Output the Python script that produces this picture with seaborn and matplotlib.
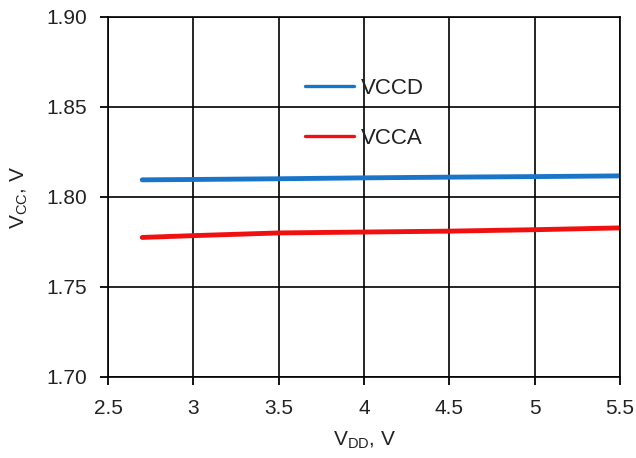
import matplotlib
matplotlib.use("Agg")
import matplotlib.pyplot as plt
import seaborn as sns
import pandas as pd


# ------------------------------------------------
# DATA
# ------------------------------------------------

vdd = [2.7, 3.0, 3.5, 4.0, 4.5, 5.0, 5.5]
vccd = [1.8095, 1.8097, 1.8101, 1.8106, 1.8110, 1.8113, 1.8117]
vcca = [1.7775, 1.7785, 1.7800, 1.7805, 1.7810, 1.7818, 1.7828]

series_names = ["VCCD", "VCCA"]
series_colors = ["#1a75c9", "#f01010"]

x_ticks = [2.5, 3, 3.5, 4, 4.5, 5, 5.5]
x_tick_labels = ["2.5", "3", "3.5", "4", "4.5", "5", "5.5"]
y_ticks = [1.70, 1.75, 1.80, 1.85, 1.90]
y_tick_labels = ["1.70", "1.75", "1.80", "1.85", "1.90"]


# ------------------------------------------------
# STYLE
# ------------------------------------------------

sns.set_style("ticks")
plt.rcParams["font.family"] = ["Liberation Sans", "DejaVu Sans"]
plt.rcParams["mathtext.default"] = "regular"
plt.rcParams["xtick.major.size"] = 6
plt.rcParams["ytick.major.size"] = 6
plt.rcParams["xtick.major.width"] = 1.3
plt.rcParams["ytick.major.width"] = 1.3

df = pd.DataFrame({
    "VDD": vdd * 2,
    "VCC": vccd + vcca,
    "series": [series_names[0]] * len(vdd) + [series_names[1]] * len(vdd),
})


# ------------------------------------------------
# PLOT
# ------------------------------------------------

fig = plt.figure(figsize=(6.36, 4.58), dpi=100)
ax = fig.add_axes([0.170, 0.177, 0.805, 0.786])

sns.lineplot(
    data=df,
    x="VDD",
    y="VCC",
    hue="series",
    palette=dict(zip(series_names, series_colors)),
    linewidth=3.5,
    ax=ax,
)

ax.set_xlim(2.5, 5.5)
ax.set_ylim(1.70, 1.90)
ax.set_xticks(x_ticks)
ax.set_xticklabels(x_tick_labels)
ax.set_yticks(y_ticks)
ax.set_yticklabels(y_tick_labels)

ax.grid(True, color="black", linewidth=1.2)
ax.set_axisbelow(True)
for s in ax.spines.values():
    s.set_visible(True)
    s.set_color("black")
    s.set_linewidth(1.2)

ax.tick_params(axis="both", direction="out", color="black",
               labelsize=15, labelcolor="#222222")
ax.tick_params(axis="x", pad=10)
ax.tick_params(axis="y", pad=9)

ax.set_xlabel("V$_{DD}$, V", fontsize=15, color="#222222", labelpad=8)
ax.set_ylabel("V$_{CC}$, V", fontsize=15, color="#222222", labelpad=12)

leg = ax.legend(
    loc="upper left",
    bbox_to_anchor=(0.385, 0.83),
    frameon=False,
    fontsize=16,
    handlelength=2.2,
    handletextpad=0.3,
    labelspacing=1.3,
    borderpad=0,
    borderaxespad=0,
    title=None,
)
for line in leg.get_lines():
    line.set_linewidth(2.4)
for t in leg.get_texts():
    t.set_color("#222222")

fig.savefig("out.png", dpi=100)
